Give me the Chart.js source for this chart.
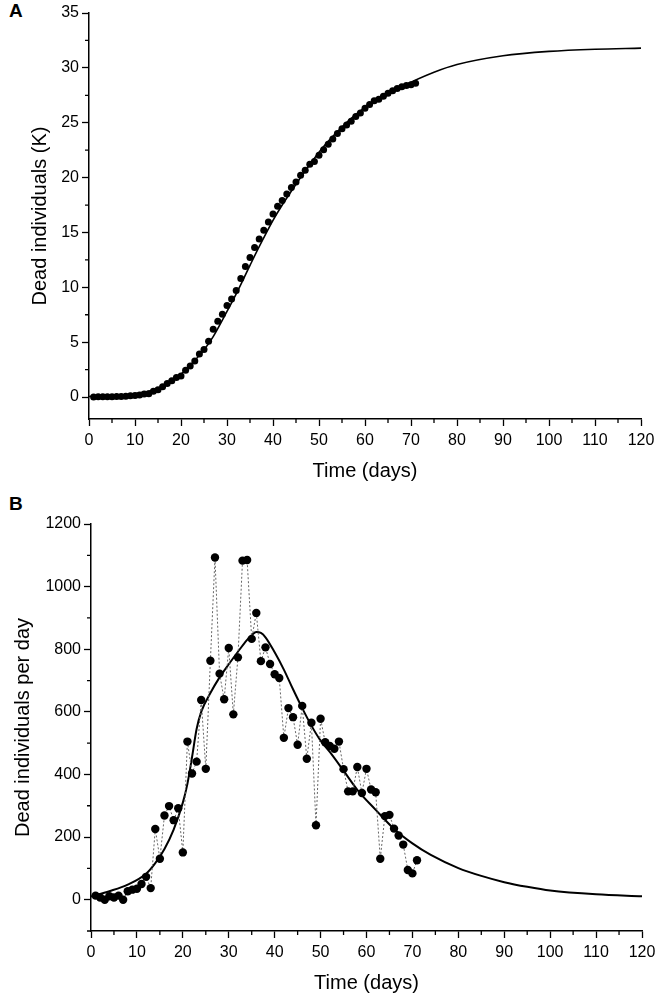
<!DOCTYPE html>
<html>
<head>
<meta charset="utf-8">
<script src="https://cdn.jsdelivr.net/npm/chart.js@4.4.1/dist/chart.umd.min.js"></script>
<style>
  html, body { margin: 0; padding: 0; background: #fff; }
  body { width: 661px; height: 997px; position: relative; overflow: hidden; font-family: 'Liberation Sans', Arial, sans-serif; }
  canvas { position: absolute; left: 0; }
  #cA { top: 0; }
  #cB { top: 490px; }
  .panel { position: absolute; font-weight: bold; font-size: 19px; color: #000; }
</style>
</head>
<body>
<div class="panel" style="left:9px; top:0px;">A</div>
<div class="panel" style="left:9px; top:493px;">B</div>
<canvas id="cA" width="661" height="490"></canvas>
<canvas id="cB" width="661" height="507"></canvas>
<script>
// ---- data ----
const days = [1,2,3,4,5,6,7,8,9,10,11,12,13,14,15,16,17,18,19,20,21,22,23,24,25,26,27,28,29,30,31,32,33,34,35,36,37,38,39,40,41,42,43,44,45,46,47,48,49,50,51,52,53,54,55,56,57,58,59,60,61,62,63,64,65,66,67,68,69,70,71];

// Panel A: cumulative dead individuals (thousands)
const cumDeadK = [0.013,0.020,0.020,0.031,0.038,0.051,0.051,0.078,0.110,0.145,0.195,0.268,0.305,0.531,0.662,0.931,1.230,1.484,1.776,1.927,2.432,2.835,3.276,3.914,4.332,5.095,6.188,6.910,7.550,8.354,8.946,9.720,10.803,11.888,12.721,13.637,14.399,15.205,15.958,16.678,17.386,17.903,18.515,19.098,19.593,20.212,20.662,21.227,21.465,22.043,22.546,23.037,23.519,24.024,24.441,24.787,25.133,25.557,25.898,26.316,26.668,27.011,27.142,27.409,27.680,27.907,28.112,28.288,28.383,28.467,28.593];

// Panel A: fitted curve
const fitDaysA = [0,5,10,12,15,17,20,22,25,27,30,32,35,37,40,42,45,47,50,52,55,57,60,63,66,70,75,80,90,100,110,120];
const fitCumK  = [0.05,0.12,0.3,0.45,0.76,1.2,2.1,2.9,4.3,5.5,7.8,9.4,12.0,13.7,16.1,17.5,19.4,20.6,22.3,23.3,24.6,25.4,26.4,27.2,27.9,28.7,29.6,30.3,31.1,31.5,31.7,31.8];

// Panel B: dead individuals per day
const dailyDead = [13,7,0,11,7,13,0,27,32,35,50,73,37,226,131,269,299,254,292,151,505,403,441,638,418,763,1093,722,640,804,592,774,1083,1085,833,916,762,806,753,720,708,517,612,583,495,619,450,565,238,578,503,491,482,505,417,346,346,424,341,418,352,343,131,267,271,227,205,176,95,84,126];

// Panel B: fitted curve
const fitDaysB = [0,4,8,12,14,16,18,20,21,22,23,24,26,28,30,32,34,35,36,37,38,40,42,44,46,48,50,52,55,58,62,66,70,74,80,85,90,95,100,110,120];
const fitDaily = [10,27,48,83,117,162,224,310,370,455,545,600,660,710,752,792,830,845,855,852,838,790,735,672,612,556,508,472,412,351,287,226,180,143,101,76,56,41,29,17,11];

// ticks
const xTicks = [0,10,20,30,40,50,60,70,80,90,100,110,120];
const xMinor = [5,15,25,35,45,55,65,75,85,95,105,115];
const yTicksA = [0,5,10,15,20,25,30,35];
const yMinorA = [2.5,7.5,12.5,17.5,22.5,27.5,32.5];
const yTicksB = [0,200,400,600,800,1000,1200];
const yMinorB = [-100,100,300,500,700,900,1100];

// ---- drawing ----
Chart.defaults.font.family = "'Liberation Sans', Arial, sans-serif";
Chart.defaults.color = '#000';

const minorTicks = {
  id: 'minorTicks',
  afterDraw(chart, args, opts) {
    const ctx = chart.ctx, xs = chart.scales.x, ys = chart.scales.y;
    ctx.save();
    ctx.strokeStyle = '#000';
    ctx.lineWidth = 1.3;
    ctx.beginPath();
    for (const v of opts.xMinor) {
      const px = xs.getPixelForValue(v);
      ctx.moveTo(px, xs.top); ctx.lineTo(px, xs.top + opts.len);
    }
    for (const v of opts.yMinor) {
      const py = ys.getPixelForValue(v);
      ctx.moveTo(ys.right, py); ctx.lineTo(ys.right - opts.len, py);
    }
    ctx.stroke();
    ctx.restore();
  }
};

function makeChart(id, cfg) {
  const xScale = {
    type: 'linear', min: 0, max: 120,
    afterBuildTicks: s => { s.ticks = xTicks.map(v => ({value: v})); },
    afterFit: s => { s.height = cfg.xHeight; s.paddingLeft = 0; s.paddingRight = 0; },
    ticks: { autoSkip: false, maxRotation: 0, padding: 5, font: { size: 16 }, color: '#000',
             callback: v => String(v) },
    grid: { display: true, drawOnChartArea: false, drawTicks: true, tickLength: 7, tickWidth: 1.3, tickColor: '#000', color: '#000' },
    border: { display: true, color: '#000', width: 1.5 },
    title: { display: true, text: 'Time (days)', font: { size: 20 }, color: '#000', padding: { top: 0, bottom: cfg.xTitlePad } }
  };
  const yScale = {
    type: 'linear', min: cfg.yMin, max: cfg.yMax,
    afterBuildTicks: s => { s.ticks = cfg.yTicks.map(v => ({value: v})); },
    afterFit: s => { s.width = cfg.yWidth; s.paddingTop = 0; s.paddingBottom = 0; },
    ticks: { autoSkip: false, padding: 3, font: { size: 16 }, color: '#000',
             callback: v => String(v) },
    grid: { display: true, drawOnChartArea: false, drawTicks: true, tickLength: 7, tickWidth: 1.3, tickColor: '#000', color: '#000' },
    border: { display: true, color: '#000', width: 1.5 },
    title: { display: true, text: cfg.yTitle, font: { size: 20 }, color: '#000', padding: { top: cfg.yTitlePad, bottom: 0 } }
  };
  return new Chart(document.getElementById(id), {
    type: 'scatter',
    data: { datasets: cfg.datasets },
    options: {
      responsive: false, animation: false, devicePixelRatio: 1,
      layout: { padding: { top: cfg.padTop, right: cfg.padRight, bottom: 0, left: 0 } },
      plugins: { legend: { display: false }, tooltip: { enabled: false },
                 minorTicks: { xMinor: xMinor, yMinor: cfg.yMinor, len: 4 } },
      scales: { x: xScale, y: yScale }
    },
    plugins: [minorTicks]
  });
}

makeChart('cA', {
  xHeight: 71, xTitlePad: 7, yWidth: 89, yTitlePad: 28, padTop: 13, padRight: 20,
  yMin: -2, yMax: 35, yTicks: yTicksA, yMinor: yMinorA, yTitle: 'Dead individuals (K)',
  datasets: [
    { data: fitDaysA.map((d, i) => ({x: d, y: fitCumK[i]})), showLine: true, borderColor: '#000',
      borderWidth: 1.6, pointRadius: 0, cubicInterpolationMode: 'monotone', fill: false },
    { data: days.map((d, i) => ({x: d, y: cumDeadK[i]})), pointRadius: 3.5,
      backgroundColor: '#000', borderColor: '#000', borderWidth: 0 }
  ]
});

makeChart('cB', {
  xHeight: 66, xTitlePad: 2, yWidth: 91, yTitlePad: 11, padTop: 34, padRight: 19,
  yMin: -100, yMax: 1200, yTicks: yTicksB, yMinor: yMinorB, yTitle: 'Dead individuals per day',
  datasets: [
    { data: days.map((d, i) => ({x: d, y: dailyDead[i]})), showLine: true, borderColor: '#666',
      borderWidth: 1, borderDash: [2, 2], pointRadius: 4.2, backgroundColor: '#000',
      pointBorderWidth: 0, pointBorderColor: '#000', tension: 0 },
    { data: fitDaysB.map((d, i) => ({x: d, y: fitDaily[i]})), showLine: true, borderColor: '#000',
      borderWidth: 2, pointRadius: 0, cubicInterpolationMode: 'monotone', fill: false }
  ]
});
</script>
</body>
</html>
